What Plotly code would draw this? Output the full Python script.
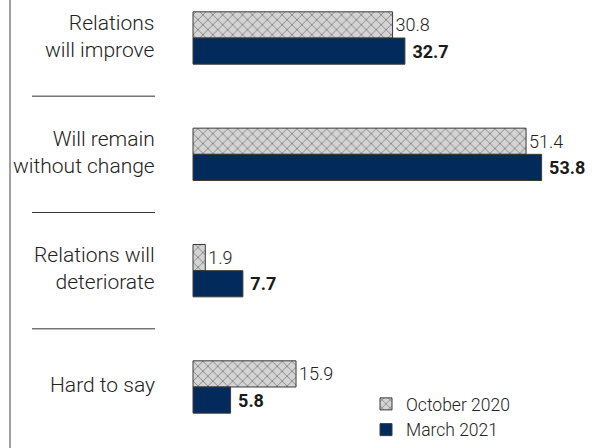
import plotly.graph_objects as go

categories = ["Relations<br>will improve", "Will remain<br>without change",
              "Relations will<br>deteriorate", "Hard to say"]
oct2020 = [30.8, 51.4, 1.9, 15.9]
mar2021 = [32.7, 53.8, 7.7, 5.8]
series_names = ["October 2020", "March 2021"]

W, H = 592, 448
k = 6.48          # px per unit
x0 = 193          # px position of zero
pitch = 116.33
c0 = 38
idx = list(range(len(categories)))

FONT = "Roboto"
fig = go.Figure()
fig.add_trace(go.Bar(
    y=idx, x=oct2020, orientation="h", name=series_names[0],
    marker=dict(color="#d4d4d4", line=dict(color="#3a3a3a", width=1),
                pattern=dict(shape="x", fgcolor="#222222", bgcolor="#d4d4d4", size=7, solidity=0.22)),
    text=[f"{v:.1f}" for v in oct2020], textposition="outside",
    textfont=dict(family=FONT, size=18, color="#222222", weight=300), cliponaxis=False,
))
fig.add_trace(go.Bar(
    y=idx, x=mar2021, orientation="h", name=series_names[1],
    marker=dict(color="#022b5c", line=dict(color="#3a3a3a", width=1)),
    text=[f" <b>{v:.1f}</b>" for v in mar2021], textposition="outside",
    textfont=dict(family=FONT, size=18, color="#1a1a1a"), cliponaxis=False,
))

for i, c in enumerate(categories):
    fig.add_annotation(xref="paper", yref="y", x=157 / W, y=i, text=c,
                       xanchor="right", yanchor="middle", align="right",
                       showarrow=False, yshift=2,
                       font=dict(family=FONT, size=21, color="#222222", weight=300))

for i in range(len(categories) - 1):
    fig.add_shape(type="line", xref="paper", yref="y",
                  x0=32 / W, x1=155 / W, y0=i + 0.5, y1=i + 0.5,
                  line=dict(color="#333333", width=1))

fig.add_shape(type="line", xref="paper", yref="paper", x0=10 / W, x1=10 / W,
              y0=0, y1=1, line=dict(color="#a0a0a0", width=2))

fig.update_layout(
    width=W, height=H, margin=dict(l=0, r=0, t=0, b=0),
    paper_bgcolor="white", plot_bgcolor="white",
    barmode="group", bargap=0.55, bargroupgap=0,
    xaxis=dict(range=[-x0 / k, (W - x0) / k], visible=False),
    yaxis=dict(range=[(H - c0) / pitch, -c0 / pitch], visible=False),
    legend=dict(x=366 / W, y=0, xanchor="left", yanchor="bottom",
                font=dict(family=FONT, size=17.5, color="#222222", weight=300),
                traceorder="normal", itemwidth=30, tracegroupgap=0,
                bgcolor="rgba(0,0,0,0)"),
    showlegend=True,
)

fig.write_html("out.html", config={"displayModeBar": False},
               post_script="document.body.style.margin='0';document.body.style.overflow='hidden';")
